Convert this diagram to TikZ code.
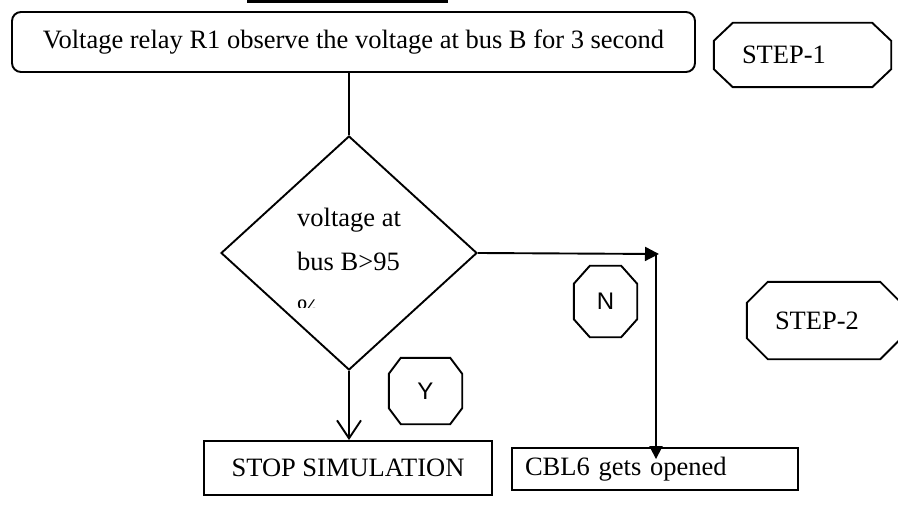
\documentclass[tikz,border=0pt]{standalone}
\usepackage{fontspec}
\setmainfont{Liberation Serif}
\newfontfamily\arialf{Liberation Sans}
\usetikzlibrary{shapes.geometric,arrows.meta}
\newcommand\octpath[3]{%
  \draw[ln] ([xshift=#2]#1.north west) -- ([xshift=-#2]#1.north east)
    -- ([yshift=-#3]#1.north east) -- ([yshift=#3]#1.south east)
    -- ([xshift=-#2]#1.south east) -- ([xshift=#2]#1.south west)
    -- ([yshift=#3]#1.south west) -- ([yshift=-#3]#1.north west) -- cycle;}
\begin{document}
\begin{tikzpicture}[x=1pt,y=-1pt,
  ln/.style={line width=1.9pt},
  serif/.style={font=\fontsize{26.5}{30}\selectfont},
  sans/.style={font=\arialf\fontsize{24}{28}\selectfont},
  boxnode/.style={draw,ln,serif,inner sep=0pt},
  octnode/.style={inner sep=0pt}]
\useasboundingbox (0,0) rectangle (898,508);
\fill[white] (0,0) rectangle (898,508);
% top bar fragment
\draw[line width=3pt] (247,1.5) -- (448,1.5);
% process box
\node[boxnode, rounded corners=9pt, minimum width=683pt, minimum height=60pt] (top) at (353.5,42)
  {Voltage relay R1 observe the voltage at bus B for 3 second};
% decision
\node[draw, ln, diamond, minimum width=256pt, minimum height=234pt, inner sep=0pt] (dec) at (349,253) {};
\node[serif, inner sep=0pt, anchor=base west] (dt1) at (297,226) {voltage at};
\node[serif, inner sep=0pt, anchor=base west] (dt2) at (297,271) {bus B>95};
\begin{scope}
  \clip (290,290) rectangle (330,307);
  \node[serif, inner sep=0pt, anchor=base west] (dt3) at (297,317) {\%};
\end{scope}
% result boxes
\node[boxnode, minimum width=288pt, minimum height=54pt] (stop) at (348,468) {STOP SIMULATION};
\node[boxnode, minimum height=42pt, text width=260pt, inner xsep=13pt, align=left] (cbl) at (655,469) {CBL6 gets opened};
% octagon labels
\node[octnode, serif, minimum width=177pt, minimum height=64pt, text width=121pt, inner xsep=28pt, align=left] (s1) at (802.5,55) {STEP-1};
\octpath{s1}{19pt}{18pt}
\node[octnode, serif, minimum width=154pt, minimum height=77pt, text width=98pt, inner xsep=28pt, align=left] (s2) at (824,320.5) {STEP-2};
\octpath{s2}{21pt}{21pt}
\node[octnode, sans, minimum width=63pt, minimum height=71pt] (n) at (605.5,301.5) {N};
\octpath{n}{16pt}{18pt}
\node[octnode, sans, minimum width=73pt, minimum height=66pt] (y) at (425.5,391) {Y};
\octpath{y}{12pt}{16pt}
% connectors
\draw[ln] (top.south -| dec.north) -- (dec.north);
\draw[ln, -{Straight Barb[length=18pt,width=24pt]}] (dec.south) -- (dec.south |- stop.north);
\coordinate (corner) at (656,254);
\draw[ln, -{Triangle[length=14pt,width=14pt]}] (dec.east) -- ([xshift=3pt]corner);
\draw[ln, -{Triangle[length=13pt,width=13pt]}, shorten >=-12pt] ([yshift=1pt]corner) -- (corner |- cbl.north);
\end{tikzpicture}
\end{document}
